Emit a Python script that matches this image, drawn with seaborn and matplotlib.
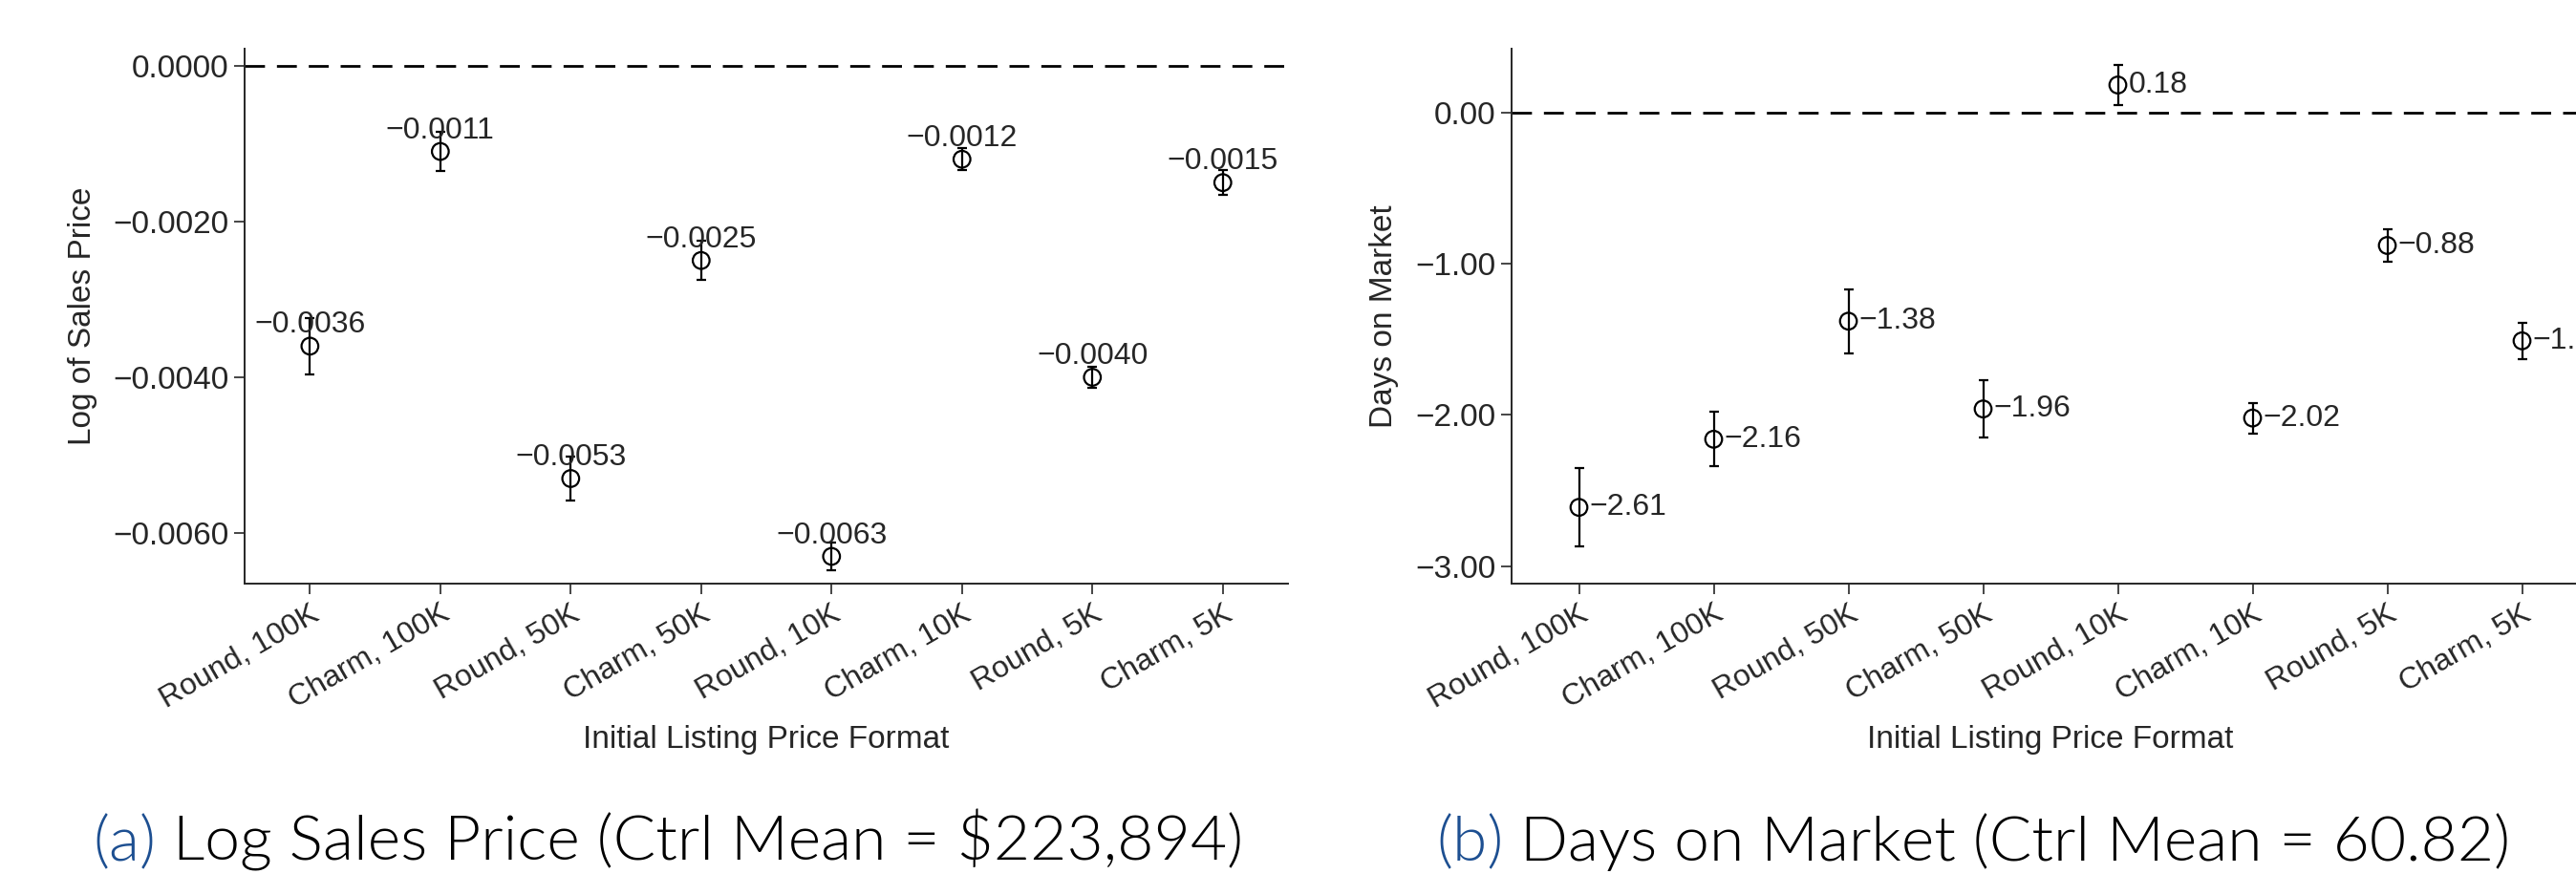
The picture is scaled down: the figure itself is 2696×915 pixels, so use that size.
import numpy as np
import pandas as pd
import matplotlib
matplotlib.use("Agg")
import matplotlib.pyplot as plt
import seaborn as sns

# chart data
formats = ['Round, 100K', 'Charm, 100K', 'Round, 50K', 'Charm, 50K',
           'Round, 10K', 'Charm, 10K', 'Round, 5K', 'Charm, 5K']

price_coef = [-0.0036, -0.0011, -0.0053, -0.0025, -0.0063, -0.0012, -0.0040, -0.0015]
price_err = [0.00036, 0.00025, 0.00028, 0.00025, 0.00018, 0.00014, 0.00014, 0.00016]
price_ticks = [0.0, -0.002, -0.004, -0.006]

dom_coef = [-2.61, -2.16, -1.38, -1.96, 0.18, -2.02, -0.88, -1.51]
dom_err = [0.26, 0.18, 0.21, 0.19, 0.13, 0.10, 0.11, 0.12]
dom_ticks = [0.0, -1.0, -2.0, -3.0]

captions = [('(a)', ' Log Sales Price (Ctrl Mean = $223,894)'),
            ('(b)', ' Days on Market (Ctrl Mean = 60.82)')]

sns.set_style("ticks")
plt.rcParams['font.family'] = ['Liberation Sans', 'DejaVu Sans']
plt.rcParams['axes.unicode_minus'] = True

fig = plt.figure(figsize=(26.96, 9.15), dpi=100)
ax1 = fig.add_axes([0.0950, 0.3322, 0.4050, 0.6121])
ax2 = fig.add_axes([0.5868, 0.3322, 0.4184, 0.6121])


def coef_plot(ax, coef, err, ticks, ylabel, fmt, label_side):
    df = pd.DataFrame({'pos': np.arange(1, len(formats) + 1), 'coef': coef, 'err': err})
    ax.axhline(0, color='black', lw=2, ls=(0, (7.5, 4.5)), zorder=1)
    ax.errorbar(df['pos'], df['coef'], yerr=df['err'], fmt='none', ecolor='black',
                elinewidth=1.6, capsize=3.8, capthick=1.6, zorder=2)
    sns.scatterplot(data=df, x='pos', y='coef', ax=ax, marker='o', s=160,
                    facecolor='none', edgecolor='black', linewidth=1.6, zorder=3)
    for _, r in df.iterrows():
        txt = fmt.format(r['coef']).replace('-', '\u2212')
        if label_side == 'top':
            ax.annotate(txt, (r['pos'], r['coef']), xytext=(0, 10), textcoords='offset points',
                        ha='center', va='baseline', fontsize=23, zorder=4)
        else:
            ax.annotate(txt, (r['pos'], r['coef']), xytext=(8, 0), textcoords='offset points',
                        ha='left', va='center', fontsize=23, zorder=4)
    ax.set_xlim(0.5, 8.5)
    ax.set_xticks(df['pos'])
    ax.set_xticklabels(formats, rotation=30, ha='right', rotation_mode='anchor', fontsize=23)
    ax.set_yticks(ticks)
    ax.set_yticklabels([fmt.format(t).replace('-', '\u2212') for t in ticks], fontsize=24)
    ax.set_xlabel('Initial Listing Price Format', fontsize=24, labelpad=8)
    ax.set_ylabel(ylabel, fontsize=24, labelpad=12)
    ax.tick_params(axis='both', length=8, width=1.2, direction='out', pad=4)
    for s in ['left', 'bottom']:
        ax.spines[s].set_linewidth(1.4)
    sns.despine(ax=ax)


coef_plot(ax1, price_coef, price_err, price_ticks, 'Log of Sales Price', '{:.4f}', 'top')
ax1.set_ylim(-0.00665, 0.00022)
coef_plot(ax2, dom_coef, dom_err, dom_ticks, 'Days on Market', '{:.2f}', 'right')
ax2.set_ylim(-3.114, 0.42)

# subfigure captions
cap_y = (915 - 901) / 915
for (tag, rest), x in zip(captions, [97 / 2696, 1503 / 2696]):
    t = fig.text(x, cap_y, tag, fontsize=47.5, family='Lato', fontweight=300,
                 color='#1d4f91', ha='left', va='baseline')
    fig.canvas.draw()
    bb = t.get_window_extent()
    fig.text(bb.x1 / fig.bbox.width, cap_y, rest, fontsize=47.5, family='Lato',
             fontweight=300, color='black', ha='left', va='baseline')

fig.savefig('out.png', dpi=100)
